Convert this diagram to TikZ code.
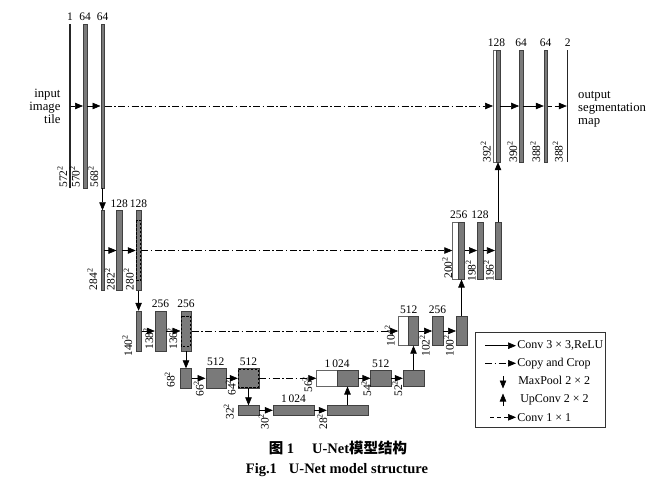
\documentclass[tikz,border=0pt]{standalone}
\usepackage{fontspec}
\setmainfont{Liberation Serif}
\newfontfamily\cjk{Noto Sans CJK SC}
\usetikzlibrary{arrows.meta,positioning}

\begin{document}
\begin{tikzpicture}[x=1pt,y=-1pt,
  font=\fontsize{11.5}{13}\selectfont,
  >={Triangle[length=8pt,width=6.5pt]},
  line width=0.6pt,
  fmap/.style 2 args={draw=black!75,fill=black!52,line width=0.4pt,inner sep=0pt,minimum width=#1pt,minimum height=#2pt},
  wmap/.style 2 args={draw=black!60,fill=white,line width=0.4pt,inner sep=0pt,minimum width=#1pt,minimum height=#2pt},
  plane/.style={fill=black!85,inner sep=0pt,minimum width=1.2pt,minimum height=#1pt},
  chan/.style={above,inner sep=2.5pt},
  dimlab/.style={rotate=90,anchor=south west,inner sep=0pt},
  conv/.style={->},
  convone/.style={->,dash pattern=on 4pt off 3pt},
  copyline/.style={->,dash pattern=on 7pt off 2.5pt on 1.5pt off 2.5pt},
  croprect/.style={draw=black,line width=0.5pt,dash pattern=on 2.5pt off 1.5pt},
  sidetext/.style={font=\fontsize{12.7}{13}\selectfont},
  lgtext/.style={anchor=west,inner sep=1pt,font=\fontsize{12}{13}\selectfont},
  captext/.style={font=\fontsize{14.5}{16}\selectfont\bfseries}
  ]
\useasboundingbox (0,0) rectangle (647,485);

% contracting path
\node[plane=164] (in0) at (70,106) {};
\node[fmap={3.6}{164}] (c11) at (85,106) {};
\node[fmap={3.6}{164}] (c12) at (102.5,106) {};

\node[fmap={3.4}{80}] (c21) at (102.5,250.5) {};
\node[fmap={5.3}{80}] (c22) at (119.3,250.5) {};
\node[fmap={5.3}{80}] (c23) at (138.6,250.5) {};

\node[fmap={5.7}{40}] (c31) at (138.6,331) {};
\node[fmap={11}{40}] (c32) at (160.5,331) {};
\node[fmap={10.6}{40}] (c33) at (186,331) {};

\node[fmap={10.7}{19.5}] (c41) at (186,378.3) {};
\node[fmap={20}{19.5}] (c42) at (215.7,378.3) {};
\node[fmap={21}{19.5}] (c43) at (248.5,378.3) {};

\node[fmap={21}{9.5}] (c51) at (248.5,410.3) {};
\node[fmap={41}{9.5}] (c52) at (293.5,410.3) {};
\node[fmap={41}{9.5}] (c53) at (347.5,410.3) {};

% expansive path
\node[wmap={20.5}{16}] (u41w) at (326.75,378.3) {};
\node[fmap={21}{16}] (u41g) at (347.5,378.3) {};
\node[fmap={20.3}{16}] (u42) at (380.8,378.3) {};
\node[fmap={21}{16}] (u43) at (413.5,378.3) {};

\node[wmap={10.2}{29}] (u31w) at (403.4,331) {};
\node[fmap={10}{29}] (u31g) at (413.5,331) {};
\node[fmap={10.4}{29}] (u32) at (437.5,331) {};
\node[fmap={10.6}{29}] (u33) at (461.5,331) {};

\node[wmap={6}{57.6}] (u21w) at (455.5,250.5) {};
\node[fmap={6}{57.6}] (u21g) at (461.5,250.5) {};
\node[fmap={5.4}{57.6}] (u22) at (480,250.5) {};
\node[fmap={5.7}{57.6}] (u23) at (498,250.5) {};

\node[wmap={3}{112}] (u11w) at (494.7,106) {};
\node[fmap={3.6}{112}] (u11g) at (498,106) {};
\node[fmap={3.4}{112}] (u12) at (521,106) {};
\node[fmap={3.4}{112}] (u13) at (545.7,106) {};
\node[plane=112] (out0) at (567.7,106) {};

\foreach \n/\d in {c23/10,c33/5,c43/1.2}{
  \draw[croprect] ([shift={(0.8,\d)}]\n.north west) rectangle ([shift={(-0.8,-\d)}]\n.south east);
}

\foreach \a/\b in {in0/c11,c11/c12,c21/c22,c22/c23,c31/c32,c32/c33,c41/c42,c42/c43,c51/c52,c52/c53,
    u41g/u42,u42/u43,u31g/u32,u32/u33,u21g/u22,u22/u23,u11g/u12,u12/u13}
  \draw[conv] (\a) -- (\b);
\foreach \a/\b in {c12/c21,c23/c31,c33/c41,c43/c51,c53/u41g,u43/u31g,u33/u21g,u23/u11g}
  \draw[conv] (\a) -- (\b);
\foreach \a/\b in {c12/u11w,c23/u21w,c33/u31w,c43/u41w}
  \draw[copyline] (\a) -- (\b);
\draw[convone] (u13) -- (out0);

\foreach \nm/\p/\t in {n0/in0/1,n11/c11/64,n12/c12/64,n22/c22/128,n23/c23/128,n32/c32/256,n33/c33/256,
    n42/c42/512,n43/c43/512,n52/c52/1\,024,m42/u42/512,m32/u32/256,m22/u22/128,m12/u12/64,m13/u13/64,m0/out0/2}
  \node[chan] (\nm) at (\p.north) {\t};
\foreach \nm/\p/\t in {m41/u41w/1\,024,m31/u31w/512,m21/u21w/256,m11/u11w/128}
  \node[chan] (\nm) at (\p.north east) {\t};

\foreach \nm/\x/\y/\t in {dc0/67.5/188/572,dc11/80/188/570,dc12/98.5/188/568,
    dc21/97.5/290.5/284,dc22/115/290.5/282,dc23/134/290.5/280,
    dc31/132.5/357/140,dc32/153.5/350/138,dc33/177.5/350/136,
    dc41/175/388/68,dc42/204/397/66,dc43/236/396/64,
    dc51/234/420/32,dc52/269/430/30,dc53/327.5/430/28,
    de41/312.5/393/56,de42/371.5/397/54,de43/402.5/397/52,
    de31/395/347/104,de32/430/357/102,de33/454/357/100,
    de21/452.5/279/200,de22/476/282/198,de23/494/282/196,
    de11/491/163/392,de12/517.5/163/390,de13/540.5/163/388,dout/563/163/388}
  \node[dimlab] (\nm) at (\x,\y) {\t\textsuperscript{2}};

\node[sidetext,align=right,left=5pt of in0] (intext) {input\\image\\tile};
\node[sidetext,align=left,right=6pt of out0,yshift=-3pt] (outtext) {output\\segmentation\\map};

% legend
\node[draw=black!80,inner sep=0pt,minimum width=130pt,minimum height=95.4pt] (leg) at (540.7,380) {};
\node[lgtext] (l1) at (516,345.7) {Conv 3 × 3,ReLU};
\node[lgtext] (l2) at (516,363.3) {Copy and Crop};
\node[lgtext] (l3) at (517,380.7) {MaxPool 2 × 2};
\node[lgtext] (l4) at (519,399.3) {UpConv 2 × 2};
\node[lgtext] (l5) at (516,417.3) {Conv 1 × 1};
\coordinate (a1) at (485,345.7);
\coordinate (a2) at (485,363.3);
\coordinate (a3) at (503,376);
\coordinate (b3) at (503,388.5);
\coordinate (a4) at (503,406);
\coordinate (b4) at (503,393.5);
\coordinate (a5) at (490,417.3);
\draw[conv] (a1) -- (l1);
\draw[copyline] (a2) -- (l2);
\draw[conv] (a3) -- (b3);
\draw[conv] (a4) -- (b4);
\draw[convone] (a5) -- (l5);

\node[captext] (cap1) at (338,448) {{\cjk 图} 1\hspace{18pt}U-Net{\cjk 模型结构}};
\node[captext] (cap2) at (337,470) {Fig.1\hspace{12pt}U-Net model structure};
\end{tikzpicture}
\end{document}
